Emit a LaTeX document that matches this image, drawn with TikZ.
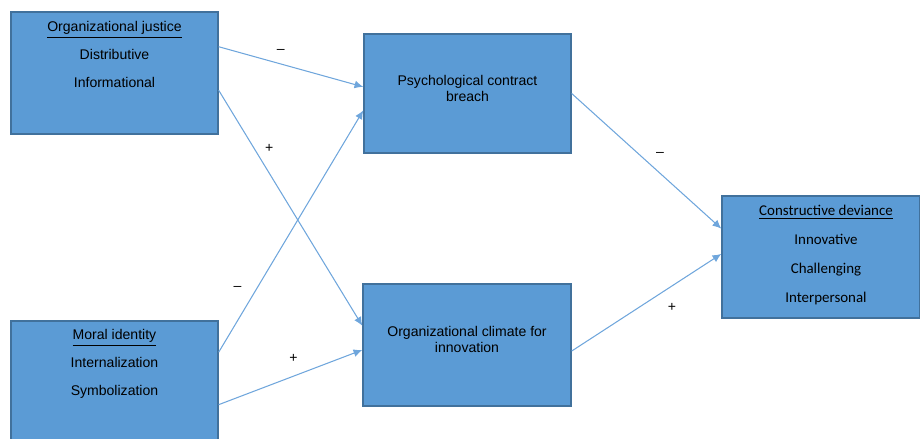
\documentclass[tikz,border=0pt]{standalone}
\usepackage{fontspec}
\setmainfont{Liberation Sans}
\newfontfamily\calibri{Carlito}
\usetikzlibrary{arrows.meta,calc}
\definecolor{boxblue}{HTML}{5B9BD5}
\definecolor{boxedge}{HTML}{41719C}
\definecolor{linkblue}{HTML}{6FA6DC}
\begin{document}
\begin{tikzpicture}[x=0.02cm, y=-0.02cm, inner sep=0pt,
	box/.style={draw=boxedge, fill=boxblue, line width=0.8pt, minimum width=4.14cm, minimum height=2.44cm},
	txt/.style={font=\fontsize{8}{16}\selectfont, align=center, anchor=north},
	link/.style={draw=linkblue, line width=0.6pt, -{Latex[length=5pt,width=4.5pt]}},
	sign/.style={font=\fontsize{8}{10}\selectfont}]
	\useasboundingbox (0,0) rectangle (920,439);
	\node[box] (oj) at (114.5, 73) {};
	\node[box, minimum height=2.4cm] (mi) at (114.5, 381) {};
	\node[box, minimum height=2.38cm] (pcb) at (467.5, 93.5) {};
	\node[box, minimum width=4.16cm] (oci) at (467, 345) {};
	\node[box, minimum width=3.96cm] (cd) at (821, 257) {};
	\node[txt] (ojtext) at (114.5, 21) {\underline{Organizational justice}\\Distributive\\Informational};
	\node[txt] (mitext) at (114.5, 329) {\underline{Moral identity}\\Internalization\\Symbolization};
	\node[font=\fontsize{8}{9.5}\selectfont, align=center] (pcbtext) at (467.5, 88.5) {Psychological contract\\breach};
	\node[font=\fontsize{8}{9.5}\selectfont, align=center] (ocitext) at (467, 339.5) {Organizational climate for\\innovation};
	\node[txt, font=\calibri\fontsize{8.5}{16.4}\selectfont] (cdtext) at (826, 205) {\underline{Constructive deviance}\\Innovative\\Challenging\\Interpersonal};
	\draw[link] ($(oj.north east)!0.287!(oj.south east)$) -- node[sign, pos=0.43, yshift=7.4pt] (s1) {--} ($(pcb.north west)!0.445!(pcb.south west)$);
	\draw[link] ($(oj.north east)!0.64!(oj.south east)$) -- node[sign, pos=0.3, xshift=4.3pt, yshift=7.3pt] (s2) {+} ($(oci.north west)!0.344!(oci.south west)$);
	\draw[link] ($(mi.north east)!0.263!(mi.south east)$) -- node[sign, pos=0.25, xshift=-9.9pt, yshift=2pt] (s3) {--} ($(pcb.north west)!0.64!(pcb.south west)$);
	\draw[link] ($(mi.north east)!0.695!(mi.south east)$) -- node[sign, pos=0.52, yshift=9.9pt] (s4) {+} ($(oci.north west)!0.54!(oci.south west)$);
	\draw[link] (pcb.east) -- node[sign, pos=0.59, yshift=10.9pt] (s5) {--} ($(cd.north west)!0.27!(cd.south west)$);
	\draw[link] ($(oci.north east)!0.549!(oci.south east)$) -- node[sign, pos=0.67, yshift=-12.5pt] (s6) {+} ($(cd.north west)!0.475!(cd.south west)$);
\end{tikzpicture}
\end{document}
